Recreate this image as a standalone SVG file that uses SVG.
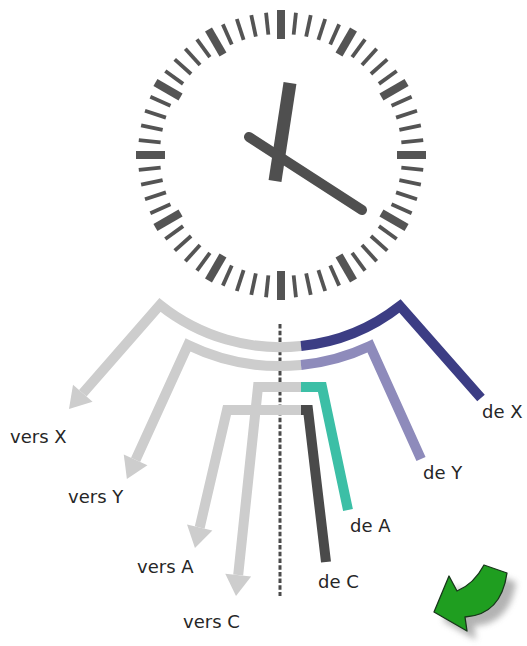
<svg xmlns="http://www.w3.org/2000/svg" width="527" height="646" viewBox="0 0 527 646">
<style>
.lbl{font-family:"DejaVu Sans","Liberation Sans",sans-serif;font-size:18px;fill:#262626}
.rt{fill:none;stroke-width:10;stroke-linejoin:miter;stroke-linecap:butt}
.g{stroke:#cdcdcd}
.arw{marker-start:url(#ah)}
.hand{stroke:#4f4f4f;fill:none}
</style>
<defs>
<rect id="mj" x="277" y="10" width="8" height="29" fill="#545454"/>
<rect id="mn" x="279.1" y="12" width="3.8" height="22" fill="#545454"/>
<marker id="ah" markerUnits="userSpaceOnUse" orient="auto-start-reverse" refX="0" refY="0" markerWidth="30" markerHeight="30" overflow="visible">
<path d="M0,-13 L21,0 L0,13 Z" fill="#cdcdcd"/>
</marker>
<filter id="blur" x="-30%" y="-30%" width="160%" height="160%"><feGaussianBlur stdDeviation="3"/></filter>
<path id="nextShape" d="M434,612 L449,576 L457,591 Q474,584 484,565 L507,573 Q501,615 465,617 L467,631 Z"/>
</defs>
<rect width="527" height="646" fill="#ffffff"/>
<g id="clock">
<use href="#mj"/><use href="#mn" transform="rotate(6 281 155)"/><use href="#mn" transform="rotate(12 281 155)"/><use href="#mn" transform="rotate(18 281 155)"/><use href="#mn" transform="rotate(24 281 155)"/>
<use href="#mj" transform="rotate(30 281 155)"/><use href="#mn" transform="rotate(36 281 155)"/><use href="#mn" transform="rotate(42 281 155)"/><use href="#mn" transform="rotate(48 281 155)"/><use href="#mn" transform="rotate(54 281 155)"/>
<use href="#mj" transform="rotate(60 281 155)"/><use href="#mn" transform="rotate(66 281 155)"/><use href="#mn" transform="rotate(72 281 155)"/><use href="#mn" transform="rotate(78 281 155)"/><use href="#mn" transform="rotate(84 281 155)"/>
<use href="#mj" transform="rotate(90 281 155)"/><use href="#mn" transform="rotate(96 281 155)"/><use href="#mn" transform="rotate(102 281 155)"/><use href="#mn" transform="rotate(108 281 155)"/><use href="#mn" transform="rotate(114 281 155)"/>
<use href="#mj" transform="rotate(120 281 155)"/><use href="#mn" transform="rotate(126 281 155)"/><use href="#mn" transform="rotate(132 281 155)"/><use href="#mn" transform="rotate(138 281 155)"/><use href="#mn" transform="rotate(144 281 155)"/>
<use href="#mj" transform="rotate(150 281 155)"/><use href="#mn" transform="rotate(156 281 155)"/><use href="#mn" transform="rotate(162 281 155)"/><use href="#mn" transform="rotate(168 281 155)"/><use href="#mn" transform="rotate(174 281 155)"/>
<use href="#mj" transform="rotate(180 281 155)"/><use href="#mn" transform="rotate(186 281 155)"/><use href="#mn" transform="rotate(192 281 155)"/><use href="#mn" transform="rotate(198 281 155)"/><use href="#mn" transform="rotate(204 281 155)"/>
<use href="#mj" transform="rotate(210 281 155)"/><use href="#mn" transform="rotate(216 281 155)"/><use href="#mn" transform="rotate(222 281 155)"/><use href="#mn" transform="rotate(228 281 155)"/><use href="#mn" transform="rotate(234 281 155)"/>
<use href="#mj" transform="rotate(240 281 155)"/><use href="#mn" transform="rotate(246 281 155)"/><use href="#mn" transform="rotate(252 281 155)"/><use href="#mn" transform="rotate(258 281 155)"/><use href="#mn" transform="rotate(264 281 155)"/>
<use href="#mj" transform="rotate(270 281 155)"/><use href="#mn" transform="rotate(276 281 155)"/><use href="#mn" transform="rotate(282 281 155)"/><use href="#mn" transform="rotate(288 281 155)"/><use href="#mn" transform="rotate(294 281 155)"/>
<use href="#mj" transform="rotate(300 281 155)"/><use href="#mn" transform="rotate(306 281 155)"/><use href="#mn" transform="rotate(312 281 155)"/><use href="#mn" transform="rotate(318 281 155)"/><use href="#mn" transform="rotate(324 281 155)"/>
<use href="#mj" transform="rotate(330 281 155)"/><use href="#mn" transform="rotate(336 281 155)"/><use href="#mn" transform="rotate(342 281 155)"/><use href="#mn" transform="rotate(348 281 155)"/><use href="#mn" transform="rotate(354 281 155)"/>
<line class="hand" x1="290" y1="83" x2="275" y2="181" stroke-width="13"/>
<line class="hand" x1="249" y1="137" x2="362" y2="210" stroke-width="10" stroke-linecap="round"/>
</g>
<g id="connectors">
<line x1="280" y1="324" x2="280" y2="596" stroke="#4a4a4a" stroke-width="3" stroke-dasharray="4.5 2.2"/>
<path class="rt g arw" d="M82.8,393.2 L160,305 A192 192 0 0 0 301,346"/>
<path class="rt g arw" d="M135.6,459.8 L188,345 A211 211 0 0 0 301,365"/>
<path class="rt g arw" d="M238.2,575.1 L258,387 L301,387"/>
<path class="rt g arw" d="M199.7,527.5 L227,410 L301,410"/>
<path class="rt" stroke="#3c3d84" d="M301,346 A192 192 0 0 0 400,306 L481,398"/>
<path class="rt" stroke="#8e8bbb" d="M301,365 A211 211 0 0 0 370,346 L421,459"/>
<path class="rt" stroke="#3cbfa6" d="M301,387 L322,387 L348,510"/>
<path class="rt" stroke="#4a4a4a" stroke-width="11" d="M301,410 L308,410 L326,562"/>
</g>
<g id="labels">
<text class="lbl" x="10" y="443">vers X</text>
<text class="lbl" x="68" y="503">vers Y</text>
<text class="lbl" x="137" y="573">vers A</text>
<text class="lbl" x="183" y="628">vers C</text>
<text class="lbl" x="482" y="418">de X</text>
<text class="lbl" x="423" y="479">de Y</text>
<text class="lbl" x="350" y="532">de A</text>
<text class="lbl" x="318" y="588">de C</text>
</g>
<g id="next-arrow">
<use href="#nextShape" transform="translate(9,9)" fill="#9a9a9a" opacity="0.75" filter="url(#blur)"/>
<use href="#nextShape" fill="#1f9e20" stroke="#17361a" stroke-width="1.3" stroke-linejoin="round"/>
</g>
</svg>
